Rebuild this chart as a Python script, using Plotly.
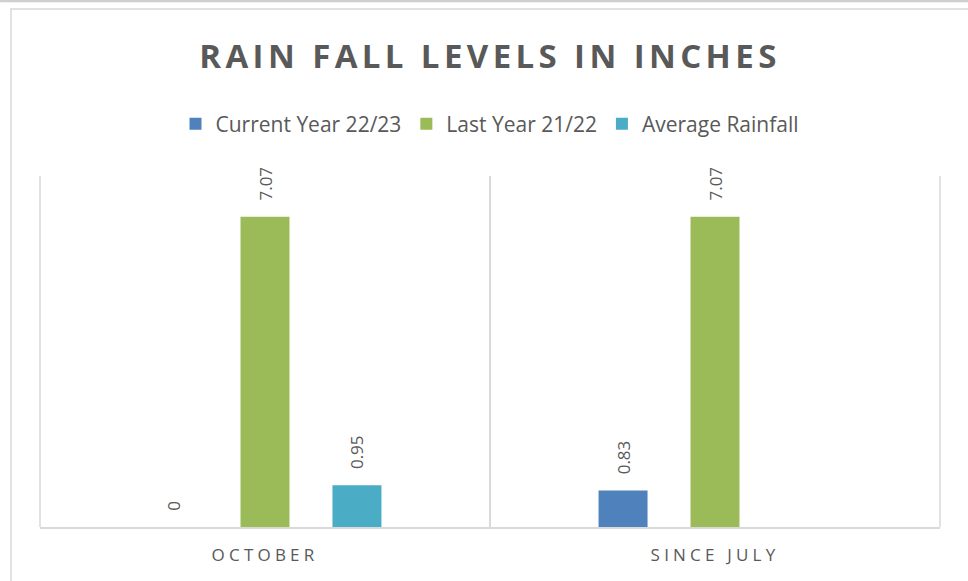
import plotly.graph_objects as go

# data
categories = ["OCTOBER", "SINCE JULY"]
current_year = [0, 0.83]
last_year = [7.07, 7.07]
average_rainfall = [0.95, None]

series_names = ["Current Year 22/23", "Last Year 21/22", "Average Rainfall"]
series_values = [current_year, last_year, average_rainfall]
series_colors = ["#4F81BD", "#9BBB59", "#4BACC6"]

TEXT_GRAY = "#595959"
LINE_GRAY = "#D9D9D9"
FONT = "Open Sans"

PAD = "\u00a0\u00a0\u00a0"  # pushes the rotated labels a little off the bar tops


def label(v):
    if v is None:
        return ""
    return PAD + f"{v:g}"


fig = go.Figure()
for name, vals, color in zip(series_names, series_values, series_colors):
    fig.add_trace(go.Bar(
        name=name,
        x=categories,
        y=vals,
        marker=dict(color=color, line=dict(width=0)),
        text=[label(v) for v in vals],
        textposition="outside",
        textangle=-90,
        constraintext="none",
        cliponaxis=False,
        textfont=dict(family=FONT, size=17, color=TEXT_GRAY),
    ))

fig.update_layout(
    width=968,
    height=581,
    barmode="group",
    bargap=0.387,
    bargroupgap=0.467,
    paper_bgcolor="#FFFFFF",
    plot_bgcolor="#FFFFFF",
    margin=dict(l=40, r=28, t=176, b=54),
    font=dict(family=FONT, color=TEXT_GRAY),
    title=dict(
        text="<b>RAIN FALL LEVELS IN INCHES</b>",
        x=0.5, xref="paper", xanchor="center",
        y=1 - 56 / 581, yref="container", yanchor="middle",
        font=dict(family=FONT, size=33, color=TEXT_GRAY),
    ),
    legend=dict(
        orientation="h",
        x=0.5, xanchor="center",
        y=1.148, yanchor="middle",
        font=dict(family=FONT, size=21, color=TEXT_GRAY),
        itemclick=False,
    ),
    showlegend=True,
)

fig.update_xaxes(
    type="category",
    showgrid=True,
    tickson="boundaries",
    gridcolor=LINE_GRAY,
    gridwidth=1.5,
    showline=True,
    linecolor=LINE_GRAY,
    linewidth=1.5,
    ticks="",
    tickfont=dict(family=FONT, size=17, color=TEXT_GRAY),
    ticklabelstandoff=12,
    zeroline=False,
)
fig.update_yaxes(
    range=[0, 8],
    showgrid=False,
    showticklabels=False,
    showline=False,
    zeroline=False,
    ticks="",
)

# outer gridlines at the plot edges (plotly skips these)
edge = dict(type="line", xref="paper", yref="paper", y0=0, y1=1,
            line=dict(color=LINE_GRAY, width=1.5), layer="below")
fig.add_shape(**edge, x0=0, x1=0)
fig.add_shape(**edge, x0=1, x1=1)

# chart-area frame, as in the spreadsheet screenshot
frame = dict(type="line", xref="paper", yref="paper", line=dict(color=LINE_GRAY, width=1.5))
fig.add_shape(type="line", xref="paper", yref="paper", line=dict(color="#CFCFCF", width=2.5),
              x0=-0.0444, x1=1.0311, y0=1.4986, y1=1.4986)
fig.add_shape(**frame, x0=-0.0333, x1=1.0311, y0=1.4758, y1=1.4758)
fig.add_shape(**frame, x0=-0.0322, x1=-0.0322, y0=1.4758, y1=-0.1538)

css = (
    "document.body.style.margin='0';"
    "var s=document.createElement('style');"
    "s.textContent='.gtitle{letter-spacing:4.4px}.xtick text{letter-spacing:4.2px}';"
    "document.head.appendChild(s);"
)
fig.write_html("out.html", post_script=css, config={"displayModeBar": False})
